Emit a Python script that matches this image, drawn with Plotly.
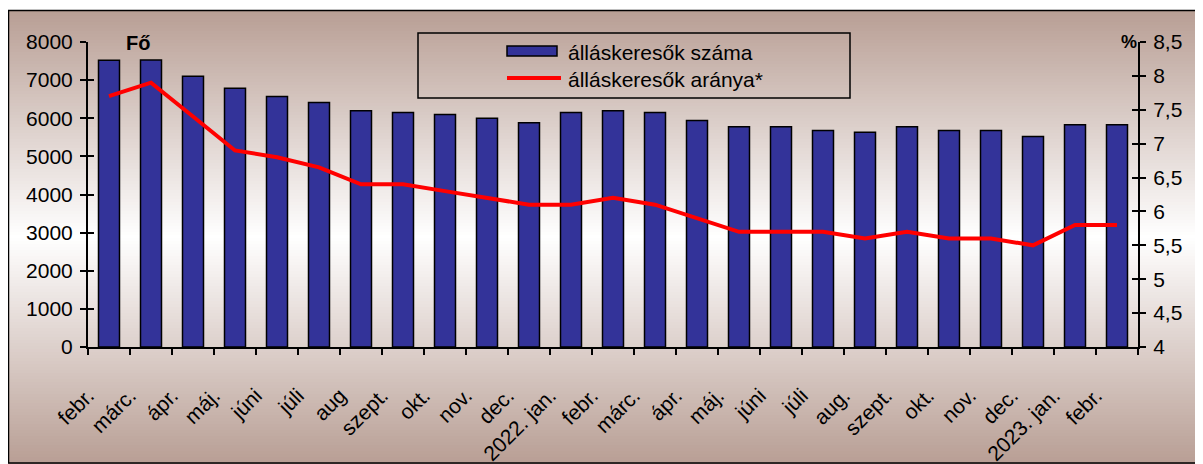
import plotly.graph_objects as go

# ---- data ----
months = ["febr.", "márc.", "ápr.", "máj.", "júni", "júli", "aug", "szept.", "okt.", "nov.", "dec.",
          "2022. jan.", "febr.", "márc.", "ápr.", "máj.", "júni", "júli", "aug.", "szept.", "okt.",
          "nov.", "dec.", "2023. jan.", "febr."]
jobseekers = [7520, 7530, 7100, 6790, 6570, 6410, 6200, 6150, 6100, 6000, 5880,
              6150, 6200, 6150, 5940, 5780, 5780, 5680, 5630, 5780, 5680,
              5680, 5520, 5830, 5830]
rate = [7.7, 7.9, 7.4, 6.9, 6.8, 6.65, 6.4, 6.4, 6.3, 6.2, 6.1,
        6.1, 6.2, 6.1, 5.9, 5.7, 5.7, 5.7, 5.6, 5.7, 5.6,
        5.6, 5.5, 5.8, 5.8]
left_tickvals = [0, 1000, 2000, 3000, 4000, 5000, 6000, 7000, 8000]
right_tickvals = [4, 4.5, 5, 5.5, 6, 6.5, 7, 7.5, 8, 8.5]
right_ticktext = ["4", "4,5", "5", "5,5", "6", "6,5", "7", "7,5", "8", "8,5"]
bar_name = "álláskeresők száma"
line_name = "álláskeresők aránya*"

# ---- geometry (page has an 8px body margin; positions below are page pixels) ----
OFF = 8
W, H = 1203 - OFF, 464 - OFF
AX_L, AX_R, AX_T, AX_B = 88, 1138, 42, 347          # page pixels of plot area
L, T = AX_L - OFF, AX_T - OFF
R, B = W - (AX_R - OFF), H - (AX_B - OFF)
PW, PH = AX_R - AX_L, AX_B - AX_T


def px(x):
    return (x - AX_L) / PW


def py(y):
    return (AX_B - y) / PH


FONT = "Liberation Sans, Arial, sans-serif"
idx = list(range(len(months)))

fig = go.Figure()
fig.add_trace(go.Bar(x=idx, y=jobseekers, name=bar_name, width=0.5,
                     marker=dict(color="#333399", line=dict(color="black", width=1.5)),
                     showlegend=False, yaxis="y"))
fig.add_trace(go.Scatter(x=idx, y=rate, name=line_name, mode="lines",
                         line=dict(color="#ff0000", width=4),
                         showlegend=False, yaxis="y2"))
# helper traces for inner halves of the crossing ticks
fig.add_trace(go.Scatter(x=[], y=[], yaxis="y3", showlegend=False, hoverinfo="skip"))
fig.add_trace(go.Scatter(x=[], y=[], yaxis="y4", showlegend=False, hoverinfo="skip"))

# ---- background gradient strips ----
shapes = []
top_c = (184, 158, 148)
y_top, y_mid, y_bot = 10, 237, 464
step = 3
y = y_top
while y < y_bot:
    yc = y + step / 2
    if yc <= y_mid:
        f = (y_mid - yc) / (y_mid - y_top)
    else:
        f = (yc - y_mid) / (y_bot - y_mid)
    f = max(0.0, min(1.0, f))
    c = tuple(round(255 - (255 - tc) * f) for tc in top_c)
    shapes.append(dict(type="rect", xref="paper", yref="paper",
                       x0=px(8), x1=px(1203), y0=py(min(y + step + 0.5, y_bot)), y1=py(y),
                       fillcolor="rgb(%d,%d,%d)" % c, line=dict(width=0), layer="below"))
    y += step

# outer border
shapes.append(dict(type="rect", xref="paper", yref="paper",
                   x0=px(8.5), x1=px(1200.5), y0=py(463), y1=py(10.5),
                   line=dict(color="black", width=1.5), fillcolor="rgba(0,0,0,0)", layer="below"))
# legend box
shapes.append(dict(type="rect", xref="paper", yref="paper",
                   x0=px(418), x1=px(850), y0=py(98), y1=py(33),
                   line=dict(color="black", width=1.5), fillcolor="rgba(0,0,0,0)", layer="above"))
# legend symbols
shapes.append(dict(type="rect", xref="paper", yref="paper",
                   x0=px(507), x1=px(557), y0=py(56), y1=py(46),
                   line=dict(color="black", width=1.5), fillcolor="#333399", layer="above"))
shapes.append(dict(type="line", xref="paper", yref="paper",
                   x0=px(507), x1=px(561), y0=py(78), y1=py(78),
                   line=dict(color="#ff0000", width=4), layer="above"))

annotations = [
    dict(text=bar_name, x=px(566), y=py(52), xref="paper", yref="paper",
         xanchor="left", yanchor="middle", showarrow=False, font=dict(size=21, color="black")),
    dict(text=line_name, x=px(566), y=py(79), xref="paper", yref="paper",
         xanchor="left", yanchor="middle", showarrow=False, font=dict(size=21, color="black")),
    dict(text="<b>Fő</b>", x=px(138), y=py(43), xref="paper", yref="paper",
         xanchor="center", yanchor="middle", showarrow=False, font=dict(size=20, color="black")),
    dict(text="<b>%</b>", x=px(1129), y=py(42), xref="paper", yref="paper",
         xanchor="center", yanchor="middle", showarrow=False, font=dict(size=18, color="black")),
]

axis_common = dict(showgrid=False, zeroline=False, linecolor="black", linewidth=2,
                   tickcolor="black", tickwidth=2, fixedrange=True, automargin=False)
inner_common = {k: v for k, v in axis_common.items() if k != "linewidth"}

fig.update_layout(
    width=W, height=H,
    margin=dict(l=L, r=R, t=T, b=B, pad=0, autoexpand=False),
    paper_bgcolor="white", plot_bgcolor="rgba(0,0,0,0)",
    font=dict(family=FONT, size=21, color="black"),
    bargap=0.5,
    shapes=shapes, annotations=annotations,
    xaxis=dict(range=[-0.5, len(months) - 0.5], tickmode="array", tickvals=idx, ticktext=months,
               tickangle=-45, ticks="", showline=True,
               ticklabelshift=-21, ticklabelstandoff=26,
               minor=dict(ticks="outside", tick0=0.5, dtick=1, ticklen=6,
                          tickcolor="black", tickwidth=2),
               **axis_common),
    yaxis=dict(range=[0, 8000], tickmode="array", tickvals=left_tickvals, ticks="outside",
               ticklen=6, showline=True, ticklabelstandoff=3, **axis_common),
    yaxis2=dict(range=[4, 8.5], tickmode="array", tickvals=right_tickvals, ticktext=right_ticktext,
                overlaying="y", side="right", anchor="x", ticks="outside", ticklen=6,
                showline=True, ticklabelstandoff=3, **axis_common),
    yaxis3=dict(range=[0, 8000], tickmode="array", tickvals=left_tickvals, ticks="inside",
                ticklen=6, overlaying="y", side="left", anchor="x", showticklabels=False,
                showline=False, **inner_common),
    yaxis4=dict(range=[4, 8.5], tickmode="array", tickvals=right_tickvals, ticks="inside",
                ticklen=6, overlaying="y", side="right", anchor="x", showticklabels=False,
                showline=False, **inner_common),
)

fig.write_html("out.html")
